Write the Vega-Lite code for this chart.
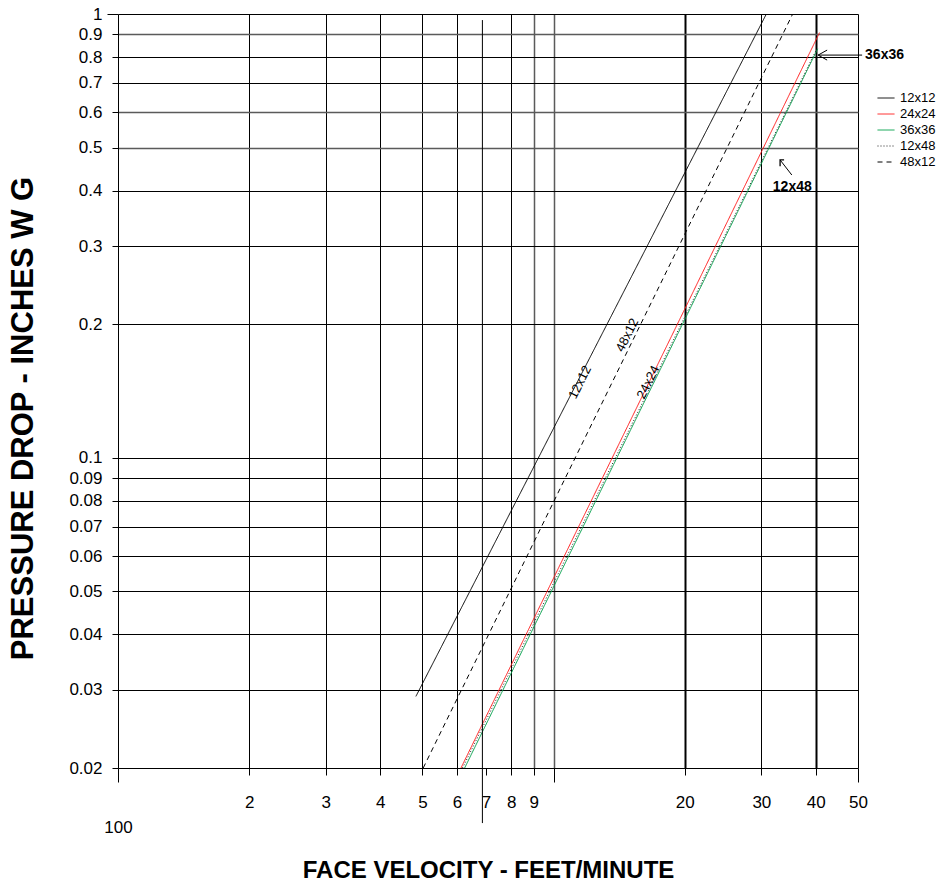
{
  "$schema": "https://vega.github.io/schema/vega-lite/v6.json",
  "width": 740,
  "height": 754,
  "autosize": {"type": "none"},
  "padding": {"left": 118, "top": 14, "right": 80, "bottom": 118},
  "background": "white",
  "config": {"view": {"stroke": null}, "font": "Liberation Sans"},
  "datasets": {
    "lines": [
      {"series": "12x12", "x": 4.83, "y": 0.029},
      {"series": "12x12", "x": 30.8, "y": 1.0},
      {"series": "48x12", "x": 5.02, "y": 0.02},
      {"series": "48x12", "x": 35.4, "y": 1.0},
      {"series": "24x24", "x": 6.13, "y": 0.02},
      {"series": "24x24", "x": 40.8, "y": 0.908},
      {"series": "36x36", "x": 6.25, "y": 0.02},
      {"series": "36x36", "x": 40.4, "y": 0.835},
      {"series": "12x48", "x": 6.18, "y": 0.02},
      {"series": "12x48", "x": 40.1, "y": 0.83}
    ],
    "extra": [{"x": 6.865, "y": 0.969, "y2": 0.01503}],
    "lineLabels": [
      {"label": "12x12", "x": 11.5, "y": 0.148},
      {"label": "48x12", "x": 14.77, "y": 0.189},
      {"label": "24x24", "x": 16.5, "y": 0.148}
    ],
    "arrows": [
      {"x": 40.5, "y": 0.808, "x2": 51.1, "y2": 0.808},
      {"x": 33.12, "y": 0.469, "x2": 35.24, "y2": 0.4337}
    ],
    "notes": [
      {"label": "36x36", "x": 51.9, "y": 0.808},
      {"label": "12x48", "x": 31.87, "y": 0.408}
    ],
    "headLeft": [{"x": 40.5, "y": 0.808}],
    "headUpLeft": [{"x": 33.12, "y": 0.469}]
  },
  "encoding": {
    "x": {
      "field": "x",
      "type": "quantitative",
      "scale": {"type": "log", "domain": [1, 50], "nice": false},
      "axis": {
        "values": [1, 2, 3, 4, 5, 6, 7, 8, 9, 10, 20, 30, 40, 50],
        "labelExpr": "datum.value == 1 ? '100' : datum.value == 10 ? '' : format(datum.value, 'd')",
        "grid": true,
        "gridColor": {"condition": {"test": "datum.value == 9 || datum.value == 10", "value": "#5a5a5a"}, "value": "black"},
        "gridOpacity": {"condition": {"test": "datum.value == 1 || datum.value == 7", "value": 0}, "value": 1},
        "gridWidth": {"condition": [{"test": "datum.value == 20 || datum.value == 40", "value": 2}, {"test": "datum.value == 9 || datum.value == 10", "value": 1.5}], "value": 1},
        "domain": false,
        "ticks": true,
        "tickColor": "black",
        "tickSize": {"condition": {"test": "datum.value == 1 || datum.value == 10 || datum.value == 50", "value": 14}, "value": 7},
        "labelFont": "Liberation Sans",
        "labelFontSize": 17,
        "labelColor": "black",
        "labelPadding": {"condition": [{"test": "datum.value == 1", "value": 37}, {"test": "datum.value == 50", "value": 12}], "value": 19},
        "labelFlush": false,
        "labelOverlap": false,
        "labelBound": false,
        "title": "FACE VELOCITY - FEET/MINUTE",
        "titleFont": "Liberation Sans",
        "titleFontSize": 24,
        "titleFontWeight": "bold",
        "titleColor": "black",
        "titleX": 370,
        "titleY": 102,
        "titleAlign": "center",
        "titleBaseline": "middle"
      }
    },
    "y": {
      "field": "y",
      "type": "quantitative",
      "scale": {"type": "log", "domain": [0.02, 1], "nice": false},
      "axis": {
        "values": [0.02, 0.03, 0.04, 0.05, 0.06, 0.07, 0.08, 0.09, 0.1, 0.2, 0.3, 0.4, 0.5, 0.6, 0.7, 0.8, 0.9, 1],
        "format": "~g",
        "grid": true,
        "gridColor": {"condition": {"test": "datum.value == 0.9 || datum.value == 0.6 || datum.value == 0.5", "value": "#5a5a5a"}, "value": "black"},
        "gridWidth": {"condition": {"test": "datum.value == 0.9 || datum.value == 0.6 || datum.value == 0.5", "value": 1.5}, "value": 1},
        "domain": true,
        "domainColor": "black",
        "domainWidth": 1,
        "ticks": true,
        "tickColor": "black",
        "tickSize": {"condition": {"test": "datum.value == 1", "value": 11}, "value": 6},
        "labelFont": "Liberation Sans",
        "labelFontSize": 17,
        "labelColor": "black",
        "labelPadding": {"condition": {"test": "datum.value == 1", "value": 5}, "value": 10},
        "labelOverlap": false,
        "labelBound": false,
        "labelFlush": false,
        "title": "PRESSURE DROP - INCHES W G",
        "titleFont": "Liberation Sans",
        "titleFontSize": 31,
        "titleFontWeight": "bold",
        "titleColor": "black",
        "titleAngle": 270,
        "titleX": -95,
        "titleY": 404,
        "titleAlign": "center",
        "titleBaseline": "middle"
      }
    }
  },
  "layer": [
    {
      "data": {"name": "lines"},
      "mark": {"type": "line", "strokeWidth": 1, "clip": false},
      "encoding": {
        "color": {
          "field": "series",
          "type": "nominal",
          "scale": {"domain": ["12x12", "24x24", "36x36", "12x48", "48x12"], "range": ["black", "#ff1a1a", "#00a04a", "#222222", "black"]},
          "legend": {
            "orient": "none",
            "legendX": 759,
            "legendY": 75,
            "title": null,
            "symbolType": "stroke",
            "symbolSize": 289,
            "symbolStrokeWidth": 1,
            "labelFont": "Liberation Sans",
            "labelFontSize": 13,
            "labelColor": "black",
            "labelOffset": 5,
            "rowPadding": 0,
            "padding": 0
          }
        },
        "strokeDash": {
          "field": "series",
          "type": "nominal",
          "scale": {"domain": ["12x12", "24x24", "36x36", "12x48", "48x12"], "range": [[1, 0], [1, 0], [1, 0], [1, 2], [5, 4]]}
        },
        "order": {"field": "x", "type": "quantitative"}
      }
    },
    {
      "data": {"name": "extra"},
      "mark": {"type": "rule", "color": "black", "strokeWidth": 1, "clip": false},
      "encoding": {"y2": {"field": "y2"}}
    },
    {
      "data": {"name": "lineLabels"},
      "mark": {"type": "text", "angle": -63.5, "font": "Liberation Sans", "fontSize": 13, "color": "black", "align": "center", "baseline": "middle"},
      "encoding": {"text": {"field": "label"}}
    },
    {
      "data": {"name": "arrows"},
      "mark": {"type": "rule", "color": "black", "strokeWidth": 1, "clip": false},
      "encoding": {"x2": {"field": "x2"}, "y2": {"field": "y2"}}
    },
    {
      "data": {"name": "headLeft"},
      "mark": {"type": "point", "shape": "M1.8,-1L0,0L1.8,1", "filled": false, "stroke": "black", "strokeWidth": 1, "size": 100, "opacity": 1, "clip": false},
      "encoding": {}
    },
    {
      "data": {"name": "headUpLeft"},
      "mark": {"type": "point", "shape": "M0,1.6L0,0L1,0", "filled": false, "stroke": "black", "strokeWidth": 1.3, "size": 64, "opacity": 1, "clip": false},
      "encoding": {}
    },
    {
      "data": {"name": "notes"},
      "mark": {"type": "text", "font": "Liberation Sans", "fontSize": 14, "fontWeight": "bold", "color": "black", "align": "left", "baseline": "middle"},
      "encoding": {"text": {"field": "label"}}
    }
  ]
}
